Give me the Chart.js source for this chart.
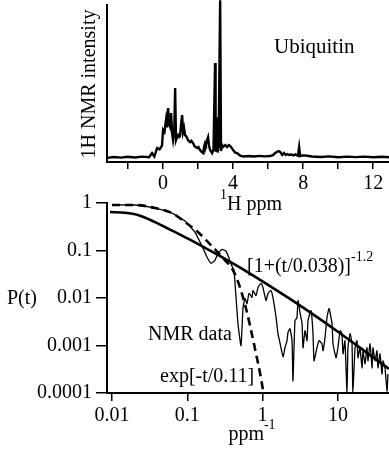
<!DOCTYPE html>
<html><head><meta charset="utf-8">
<script src="https://cdn.jsdelivr.net/npm/chart.js@4/dist/chart.umd.min.js"></script>
<style>
html,body{margin:0;padding:0;background:#fff;}
#wrap{position:relative;width:389px;height:451px;}
canvas{position:absolute;left:0;top:0;}
</style>
</head><body>
<div id="wrap"><canvas id="topChart" width="389" height="451"></canvas><canvas id="botChart" width="389" height="451"></canvas></div>
<script>
// ---- Top panel: 1H NMR spectrum of ubiquitin ----
const spectrumPpm = [-3.2,-2.8,-2.4,-2.0,-1.6,-1.2,-0.8,-0.63,-0.5,-0.34,-0.2,-0.06,0.0,0.08,0.17,0.22,0.29,0.34,0.4,0.46,0.52,0.57,0.64,0.69,0.74,0.8,0.86,0.92,0.97,1.03,1.09,1.14,1.2,1.26,1.32,1.37,1.45,1.54,1.62,1.71,1.8,1.94,2.02,2.11,2.2,2.29,2.35,2.4,2.45,2.51,2.57,2.63,2.69,2.8,2.88,2.97,3.0,3.06,3.12,3.17,3.26,3.31,3.37,3.43,3.55,3.66,3.75,3.83,3.92,4.0,4.12,4.23,4.4,4.6,4.9,5.2,5.5,5.8,6.11,6.3,6.4,6.5,6.6,6.69,6.8,6.91,7.0,7.09,7.2,7.31,7.45,7.54,7.7,7.77,7.83,8.0,8.23,8.5,9.0,9.5,10.0,10.5,11.0,11.5,12.0,12.5,12.9];
const spectrumIntensity = [2.6,3.2,2.8,3.3,2.9,3.4,3.0,5.7,3.5,8.9,8.0,10.5,20.4,19.0,26.8,22.0,34.4,24.0,22.3,31.2,18.0,14.0,20.0,47.1,14.0,16.0,17.2,15.9,16.5,24.0,29.9,19.0,21.7,17.0,16.5,15.3,13.5,12.7,13.5,12.1,10.0,8.9,9.5,7.6,6.5,5.7,10.0,12.1,11.0,14.0,15.9,10.0,7.6,5.7,8.0,63.1,6.5,28.7,6.0,10.0,103,7.0,10.8,9.6,10.8,9.6,10.8,10.2,9.0,7.6,6.0,5.7,4.0,3.5,3.8,3.5,3.9,3.6,3.8,4.5,5.7,6.4,7.0,6.4,4.5,5.7,4.5,5.1,4.5,4.8,4.2,4.8,4.0,9.6,3.8,4.2,4.0,3.5,3.2,3.6,3.0,3.4,3.1,3.4,3.0,3.3,3.0];
const ppmTicks = [-2,0,2,4,6,8,10,12];
const ppmTickLabels = ['','0','','4','','8','','12'];

// ---- Bottom panel: P(t) ----
const nmrTime = [0.01,0.0202,0.0372,0.0627,0.0931,0.126,0.157,0.183,0.207,0.233,0.256,0.289,0.327,0.358,0.393,0.417,0.430,0.471,0.516,0.550,0.583,0.621,0.659,0.723,0.745,0.817,0.869,0.952,1.01,1.11,1.18,1.29,1.37,1.51,1.60,1.70,1.87,1.98,2.11,2.17,2.31,2.46,2.53,2.69,2.86,2.95,3.14,3.34,3.44,3.66,3.89,4.01,4.40,4.67,4.82,5.27,5.61,6.15,6.34,6.74,7.16,7.62,8.35,8.61,9.44,10.0,10.7,11.3,11.7,12.4,13.2,13.6,14.5,15.4,15.8,16.9,17.9,18.5,19.6,20.9,21.5,22.9,24.3,25.1,26.7,28.4,29.2,31.1,33.0,34.0,36.2,38.5,39.7,42.2,44.9,46.2];
const nmrP = [0.907,0.907,0.784,0.614,0.416,0.243,0.123,0.0720,0.0537,0.0622,0.0875,0.106,0.0964,0.0686,0.0464,0.0382,0.0203,0.00289,0.000989,0.0063,0.00976,0.00765,0.0125,0.0103,0.0144,0.0113,0.0167,0.0203,0.0167,0.00885,0.0125,0.0144,0.0103,0.00387,0.00177,0.00114,0.000578,0.000896,0.00126,0.00186,0.00226,0.00126,0.000179,0.00334,0.00387,0.00885,0.00493,0.00289,0.000896,0.00205,0.00126,0.00334,0.00544,0.00177,0.000476,0.000896,0.00126,0.00109,0.000774,0.00146,0.00387,0.00600,0.00289,0.00109,0.000551,0.000896,0.00205,0.00177,0.000669,0.00126,0.0001,0.000896,0.00177,0.00109,0.0001,0.000896,0.00126,0.000551,0.000896,0.000338,0.000774,0.000411,0.000896,0.000476,0.00109,0.000338,0.000896,0.000476,0.000774,0.000338,0.000669,0.000252,0.000476,0.000338,0.000110,0.000252];
const powerTime = [0.00941,0.0149,0.0221,0.0372,0.0627,0.102,0.172,0.289,0.430,0.681,1.01,2.31,5.78,10.0,19.6,47.7];
const powerP = [0.645,0.623,0.557,0.396,0.262,0.177,0.114,0.0723,0.0504,0.0327,0.0222,0.00957,0.00360,0.00195,0.000900,0.000321];
const expTime = [0.01,0.0202,0.0372,0.0627,0.0931,0.139,0.219,0.317,0.405,0.501,0.602,0.681,0.792,0.923,1.045];
const expP = [0.907,0.907,0.784,0.614,0.396,0.243,0.117,0.0622,0.0382,0.0167,0.0060,0.00262,0.000853,0.000265,0.0000865];
const timeTicks = [0.01,0.1,1,10];
const timeTickLabels = ['0.01','0.1','1','10'];
const pTicks = [0.0001,0.001,0.01,0.1,1];
const pTickLabels = ['0.0001','0.001','0.01','0.1','1'];

const FONT = 'Liberation Serif';
const W = 389, H = 451;

function drawRich(ctx, x, y, parts, size, align) {
  ctx.save();
  ctx.fillStyle = '#000';
  ctx.textBaseline = 'alphabetic';
  ctx.textAlign = 'left';
  const supSize = Math.round(size * 0.68);
  let total = 0;
  const widths = parts.map(([t, s]) => {
    ctx.font = (s ? supSize : size) + 'px "' + FONT + '"';
    const w = ctx.measureText(t).width; total += w; return w;
  });
  let cx = align === 'center' ? x - total / 2 : x;
  parts.forEach(([t, s], i) => {
    ctx.font = (s ? supSize : size) + 'px "' + FONT + '"';
    ctx.fillText(t, cx, s ? y - size * 0.55 : y);
    cx += widths[i];
  });
  ctx.restore();
}

const topText = {
  id: 'topText',
  afterDraw(chart) {
    const ctx = chart.ctx;
    ctx.save();
    ctx.translate(95, 84);
    ctx.rotate(-Math.PI / 2);
    drawRich(ctx, 0, 0, [['1H NMR intensity', false]], 20, 'center');
    ctx.restore();
    drawRich(ctx, 274, 53, [['Ubiquitin', false]], 21, 'left');
    drawRich(ctx, 251, 210, [['1', true], ['H ppm', false]], 20, 'center');
  }
};

const botText = {
  id: 'botText',
  afterDraw(chart) {
    const ctx = chart.ctx;
    drawRich(ctx, 7, 304, [['P(t)', false]], 20, 'left');
    drawRich(ctx, 252, 440, [['ppm', false], ['-1', true]], 20, 'center');
    drawRich(ctx, 247, 272, [['[1+(t/0.038)]', false], ['-1.2', true]], 20, 'left');
    drawRich(ctx, 148, 340, [['NMR data', false]], 20, 'left');
    drawRich(ctx, 160, 382, [['exp[-t/0.11]', false]], 20, 'left');
  }
};

const tickFont = { family: FONT, size: 20 };

new Chart(document.getElementById('topChart'), {
  type: 'line',
  data: { datasets: [{
    data: spectrumPpm.map((x, i) => ({ x, y: spectrumIntensity[i] })),
    borderColor: '#000', borderWidth: 2.4, pointRadius: 0, tension: 0, clip: false, fill: false
  }]},
  options: {
    responsive: false, animation: false, devicePixelRatio: 1,
    layout: { padding: { left: 0, right: 0, top: 5, bottom: H - 162 - 50 } },
    plugins: { legend: { display: false }, tooltip: { enabled: false } },
    scales: {
      x: {
        type: 'linear', min: -3.2, max: 12.9,
        afterBuildTicks: s => { s.ticks = ppmTicks.map(v => ({ value: v })); },
        afterFit: s => { s.height = 50; },
        ticks: { callback: (v, i) => ppmTickLabels[i], font: tickFont, color: '#000', padding: 3, maxRotation: 0, autoSkip: false },
        grid: { drawOnChartArea: false, drawTicks: true, tickLength: 7, color: '#000', lineWidth: 1.5 },
        border: { color: '#000', width: 2 }
      },
      y: {
        type: 'linear', min: 0, max: 100,
        afterFit: s => { s.width = 107; },
        ticks: { display: false },
        grid: { display: false },
        border: { display: true, color: '#000', width: 2 }
      }
    }
  },
  plugins: [topText]
});

new Chart(document.getElementById('botChart'), {
  type: 'line',
  data: { datasets: [
    { label: 'NMR data', data: nmrTime.map((x, i) => ({ x, y: nmrP[i] })),
      borderColor: '#000', borderWidth: 1.3, pointRadius: 0, tension: 0.15, fill: false },
    { label: 'power law', data: powerTime.map((x, i) => ({ x, y: powerP[i] })),
      borderColor: '#000', borderWidth: 2.6, pointRadius: 0, cubicInterpolationMode: 'monotone', fill: false },
    { label: 'exp', data: expTime.map((x, i) => ({ x, y: expP[i] })),
      borderColor: '#000', borderWidth: 2.6, borderDash: [8, 5], pointRadius: 0, cubicInterpolationMode: 'monotone', fill: false }
  ]},
  options: {
    responsive: false, animation: false, devicePixelRatio: 1,
    layout: { padding: { left: 0, right: 0, top: 203, bottom: H - 393 - 50 } },
    plugins: { legend: { display: false }, tooltip: { enabled: false } },
    scales: {
      x: {
        type: 'logarithmic', min: 0.00858, max: 47.7,
        afterBuildTicks: s => { s.ticks = timeTicks.map(v => ({ value: v })); },
        afterFit: s => { s.height = 50; },
        ticks: { callback: (v, i) => timeTickLabels[i], font: tickFont, color: '#000', padding: 3, maxRotation: 0, autoSkip: false },
        grid: { drawOnChartArea: false, drawTicks: true, tickLength: 8, color: '#000', lineWidth: 1.5 },
        border: { color: '#000', width: 2 }
      },
      y: {
        type: 'logarithmic', min: 0.0001, max: 1,
        afterBuildTicks: s => { s.ticks = pTicks.map(v => ({ value: v })); },
        afterFit: s => { s.width = 107; },
        ticks: { callback: (v, i) => pTickLabels[i], font: tickFont, color: '#000', padding: 4, autoSkip: false },
        grid: { drawOnChartArea: false, drawTicks: true, tickLength: 11, color: '#000', lineWidth: 1.5 },
        border: { color: '#000', width: 2 }
      }
    }
  },
  plugins: [botText]
});
</script>
</body></html>
